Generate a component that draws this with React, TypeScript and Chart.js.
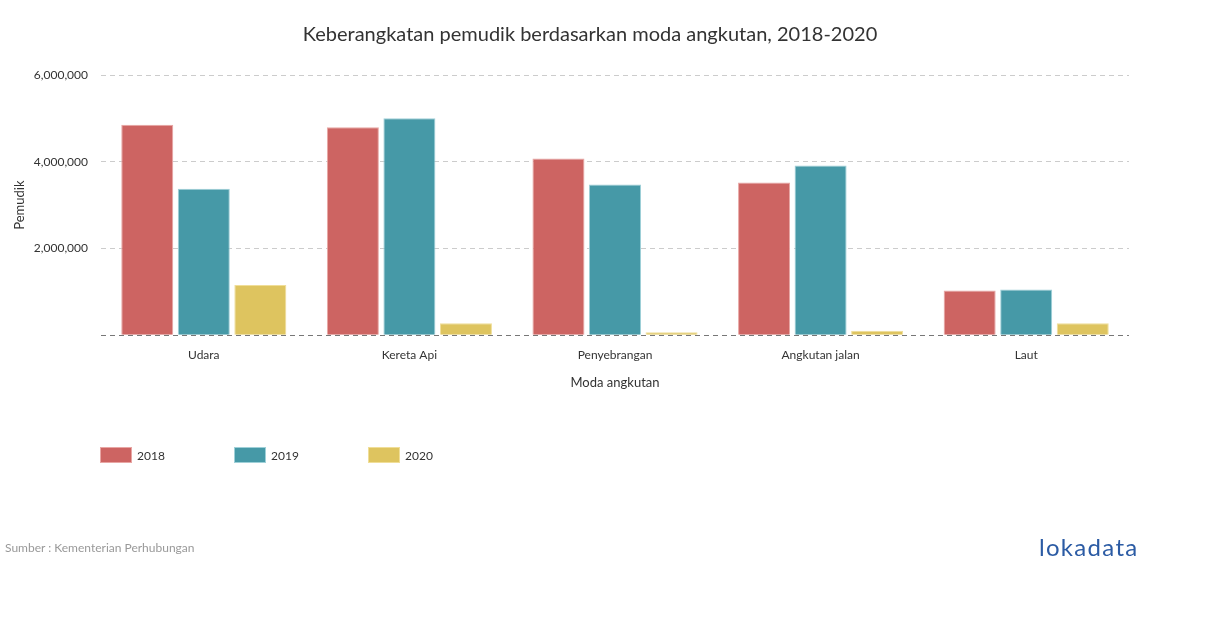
import React, { useEffect, useRef } from "react";
import { Chart, registerables } from "chart.js";

Chart.register(...registerables);

const categories = ["Udara", "Kereta Api", "Penyebrangan", "Angkutan jalan", "Laut"];
const seriesLabels = ["2018", "2019", "2020"];
const values2018 = [4855000, 4795000, 4077000, 3520000, 1033000];
const values2019 = [3380000, 5003000, 3475000, 3915000, 1056000];
const values2020 = [1158000, 278000, 70000, 107000, 278000];
const yTicks = [0, 2000000, 4000000, 6000000];

const fills = ["#cd6462", "#4699a7", "#dec45f"];
const borders = ["#e8a6a4", "#9fd0d8", "#f0de98"];

const legendPlugin = {
  id: "customLegend",
  afterDraw(chart: any) {
    const ctx = chart.ctx;
    ctx.save();
    chart.data.datasets.forEach((ds: any, i: number) => {
      const x = 100 + i * 134;
      const y = 447;
      ctx.fillStyle = ds.backgroundColor;
      ctx.fillRect(x, y, 32, 16);
      ctx.strokeStyle = ds.borderColor;
      ctx.lineWidth = 1;
      ctx.strokeRect(x + 0.5, y + 0.5, 31, 15);
      ctx.fillStyle = "#333";
      ctx.font = "12px Lato";
      ctx.textBaseline = "middle";
      ctx.textAlign = "left";
      ctx.fillText(ds.label, x + 37, y + 9);
    });
    ctx.restore();
  },
};

export default function App() {
  const ref = useRef<HTMLCanvasElement>(null);
  useEffect(() => {
    if (!ref.current) return;
    Chart.defaults.font.family = "Lato";
    const allSeries = [values2018, values2019, values2020];
    const chart = new Chart(ref.current, {
      type: "bar",
      data: {
        labels: categories,
        datasets: allSeries.map((d, i) => ({
          label: seriesLabels[i],
          data: d,
          backgroundColor: fills[i],
          borderColor: borders[i],
          borderWidth: 1,
          categoryPercentage: 0.825,
          barPercentage: 0.92,
        })),
      },
      plugins: [legendPlugin],
      options: {
        responsive: false,
        animation: false,
        devicePixelRatio: 1,
        layout: { padding: { left: 0, top: 75, right: 81, bottom: 232.7 } },
        plugins: {
          legend: { display: false },
          tooltip: { enabled: false },
          title: { display: false },
        },
        scales: {
          x: {
            grid: { display: false },
            border: { display: false },
            ticks: { color: "#333", font: { size: 12 }, padding: 5 },
            title: {
              display: true,
              text: "Moda angkutan",
              color: "#333",
              font: { size: 13 },
              padding: { top: 0, bottom: 4.5 },
            },
            afterFit: (s: any) => {
              s.height = 60;
            },
          },
          y: {
            min: 0,
            max: 6000000,
            afterBuildTicks: (s: any) => {
              s.ticks = yTicks.map((v) => ({ value: v }));
            },
            grid: {
              drawTicks: false,
              color: (c: any) => (c.tick && c.tick.value === 0 ? "#777" : "#cccccc"),
              lineWidth: 1,
            },
            border: { display: false, dash: [5, 4] },
            ticks: {
              color: "#333",
              font: { size: 12 },
              padding: 13,
              callback: (v: any) => (Number(v) === 0 ? "" : Number(v).toLocaleString("en-US")),
            },
            title: {
              display: true,
              text: "Pemudik",
              color: "#333",
              font: { size: 13 },
              padding: { top: 12, bottom: 0 },
            },
            afterFit: (s: any) => {
              s.width = 101;
            },
          },
        },
      },
    } as any);
    return () => chart.destroy();
  }, []);

  return (
    <div
      style={{
        position: "fixed",
        left: 0,
        top: 0,
        width: 1210,
        height: 628,
        background: "#fff",
        fontFamily: "Lato",
      }}
    >
      <canvas ref={ref} width={1210} height={628} style={{ position: "absolute", left: 0, top: 0 }} />
      <div
        style={{
          position: "absolute",
          left: 0,
          width: 1180,
          top: 20,
          textAlign: "center",
          fontSize: 20,
          color: "#333",
          lineHeight: "26px",
        }}
      >
        Keberangkatan pemudik berdasarkan moda angkutan, 2018-2020
      </div>
      <div
        style={{
          position: "absolute",
          left: 5,
          top: 540,
          fontSize: 12,
          color: "#999",
          lineHeight: "16px",
        }}
      >
        Sumber : Kementerian Perhubungan
      </div>
      <div
        style={{
          position: "absolute",
          left: 1039,
          top: 532,
          fontSize: 24,
          color: "#2b5ba4",
          lineHeight: "30px",
          letterSpacing: 1.3,
        }}
      >
        lokadata
      </div>
    </div>
  );
}
